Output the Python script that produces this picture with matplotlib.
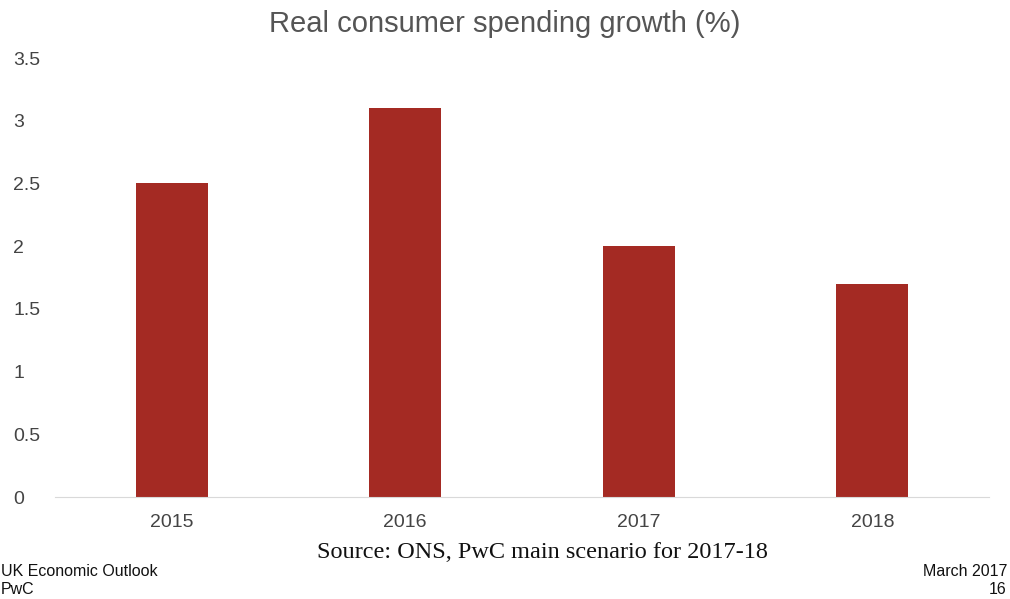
import matplotlib
matplotlib.use("Agg")
import matplotlib.pyplot as plt

years = ["2015", "2016", "2017", "2018"]
growth = [2.5, 3.1, 2.0, 1.7]
yticks = [0, 0.5, 1, 1.5, 2, 2.5, 3, 3.5]
ytick_labels = ["0", "0.5", "1", "1.5", "2", "2.5", "3", "3.5"]

plt.rcParams["font.family"] = ["Liberation Sans", "DejaVu Sans"]

fig = plt.figure(figsize=(10.1, 5.99), dpi=100)
ax = fig.add_axes([55 / 1010, 1 - 497 / 599, 934 / 1010, 439 / 599])

ax.bar(range(len(years)), growth, width=0.31, color="#a42a23")
ax.set_xlim(-0.5, len(years) - 0.5)
ax.set_ylim(0, 3.5)
ax.set_yticks(yticks)
ax.set_yticklabels(ytick_labels)
ax.set_xticks(range(len(years)))
ax.set_xticklabels(years)
ax.tick_params(axis="both", length=0, labelsize=14, colors="#444444")
ax.tick_params(axis="y", pad=30)
ax.tick_params(axis="x", pad=12)
for lab in ax.get_yticklabels():
    lab.set_horizontalalignment("left")
for s in ["top", "right", "left"]:
    ax.spines[s].set_visible(False)
ax.spines["bottom"].set_color("#d9d9d9")

fig.text(0.5, 1 - 24 / 599, "Real consumer spending growth (%)", ha="center", va="center",
         fontsize=21, color="#555555")
fig.text(542 / 1010, 1 - 553 / 599, "Source: ONS, PwC main scenario for 2017-18", ha="center",
         va="center", fontsize=17.5, family=["Liberation Serif", "DejaVu Serif"], color="#111111")
fig.text(1 / 1010, 1 - 571 / 599, "UK Economic Outlook", ha="left", va="center", fontsize=11.5, color="#111111")
fig.text(1 / 1010, 1 - 589 / 599, "PwC", ha="left", va="center", fontsize=11.5, color="#111111")
fig.text(1007 / 1010, 1 - 571 / 599, "March 2017", ha="right", va="center", fontsize=11.5, color="#111111")
fig.text(1007 / 1010, 1 - 589 / 599, "16", ha="right", va="center", fontsize=11.5, color="#111111")

fig.savefig("out.png", dpi=100)
